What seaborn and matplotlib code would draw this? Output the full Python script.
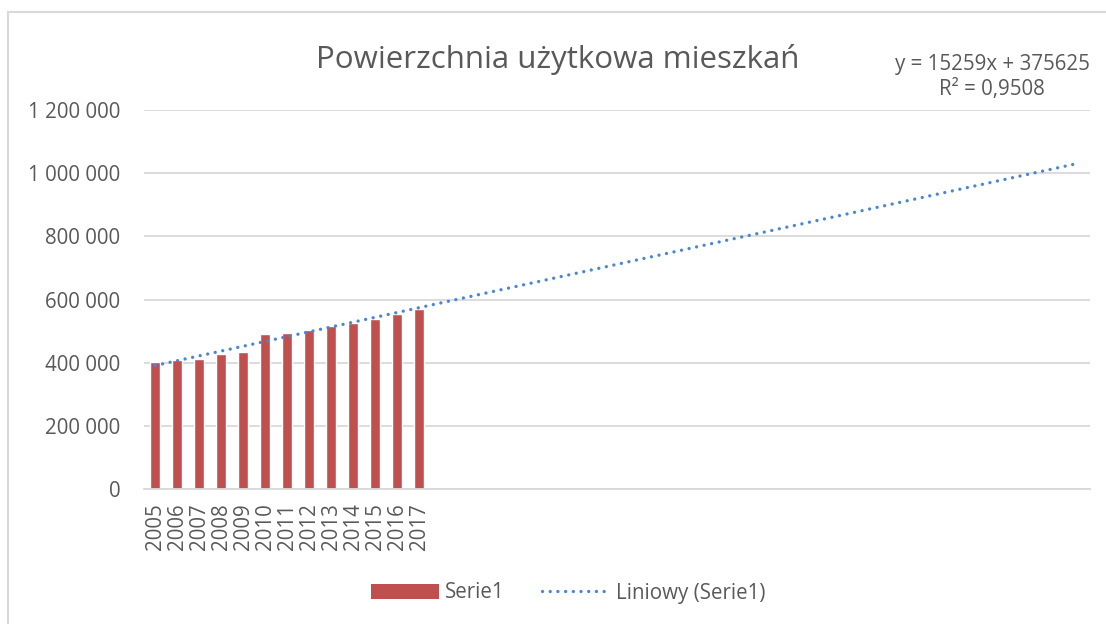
#plot.py
"""Bar chart of usable floor area with a linear trend line (Excel style)"""
import matplotlib
matplotlib.use('Agg')
import matplotlib.pyplot as plt
from matplotlib.ticker import FuncFormatter
from matplotlib.lines import Line2D
from matplotlib.patches import Patch
import numpy as np
import seaborn as sns

# data
years = ['2005', '2006', '2007', '2008', '2009', '2010', '2011',
         '2012', '2013', '2014', '2015', '2016', '2017']
values = [401000, 407000, 413000, 426000, 433500, 489500, 494600,
          505000, 514800, 526300, 539000, 553800, 568600]
# trend line as printed on the chart, forecast 30 periods forward
slope = 15259
intercept = 375625
forecast_periods = 30

title = 'Powierzchnia użytkowa mieszkań'
equation = 'y = 15259x + 375625\nR² = 0,9508'

bar_color = '#C0504D'
trend_color = '#4A86D6'
text_color = '#595959'

sns.set_theme(style='white')
plt.rcParams['font.family'] = ['Open Sans', 'DejaVu Sans']

fig = plt.figure(figsize=(11.06, 6.24), dpi=100)
ax = fig.add_axes([144 / 1106, 1 - 489 / 624, (1090 - 144) / 1106, (489 - 110) / 624])

positions = np.arange(1, len(years) + 1)
sns.barplot(x=positions, y=values, native_scale=True, width=0.41,
            color=bar_color, saturation=1, ax=ax, zorder=2)

# linear trend from the first category through the forecast
trend_x = np.array([1, len(years) + forecast_periods])
trend_y = slope * trend_x + intercept
sns.lineplot(x=trend_x, y=trend_y, color=trend_color, lw=2.4, ax=ax, zorder=3,
             dashes=False, linestyle=(0, (0.01, 2.3)), dash_capstyle='round')

ax.set_xlim(0.5, len(years) + forecast_periods + 0.5)
ax.set_ylim(0, 1200000)
ax.set_yticks(np.arange(0, 1200001, 200000))
ax.yaxis.set_major_formatter(FuncFormatter(lambda v, p: f'{v:,.0f}'.replace(',', ' ')))
ax.set_xticks(positions)
ax.set_xticklabels(years, rotation=90)
ax.tick_params(axis='y', length=0, pad=17, labelsize=14.8, labelcolor=text_color)
ax.tick_params(axis='x', length=0, pad=10.5, labelsize=14.8, labelcolor=text_color)
ax.set_xlabel('')
ax.set_ylabel('')
ax.grid(axis='y', color='#D9D9D9', lw=1.3, zorder=0)
for side in ['top', 'right', 'left']:
    ax.spines[side].set_visible(False)
ax.spines['bottom'].set_color('#D9D9D9')
ax.spines['bottom'].set_linewidth(1.3)

fig.text(558 / 1106, 1 - 68 / 624, title, ha='center', va='baseline',
         fontsize=22.5, color=text_color)
fig.text(992 / 1106, 1 - 54 / 624, equation, ha='center', va='top',
         fontsize=14.8, color=text_color, linespacing=1.25)

handles = [Patch(facecolor=bar_color, edgecolor='none'),
           Line2D([], [], color=trend_color, lw=2.4, linestyle=(0, (0.01, 2.3)),
                  dash_capstyle='round')]
fig.legend(handles, ['Serie1', 'Liniowy (Serie1)'], loc='center',
           bbox_to_anchor=(568 / 1106, 1 - 593 / 624), ncol=2, frameon=False,
           fontsize=14.8, labelcolor=text_color, handlelength=3.3,
           handletextpad=0.3, columnspacing=1.8)

# chart area border (only top and left edges visible in the crop)
fig.add_artist(Line2D([8 / 1106, 8 / 1106], [0, 1 - 11.5 / 624],
                      transform=fig.transFigure, color='#D9D9D9', lw=1.5))
fig.add_artist(Line2D([8 / 1106, 1], [1 - 11.5 / 624, 1 - 11.5 / 624],
                      transform=fig.transFigure, color='#D9D9D9', lw=1.5))

fig.savefig('out.png', dpi=100, facecolor='white')
